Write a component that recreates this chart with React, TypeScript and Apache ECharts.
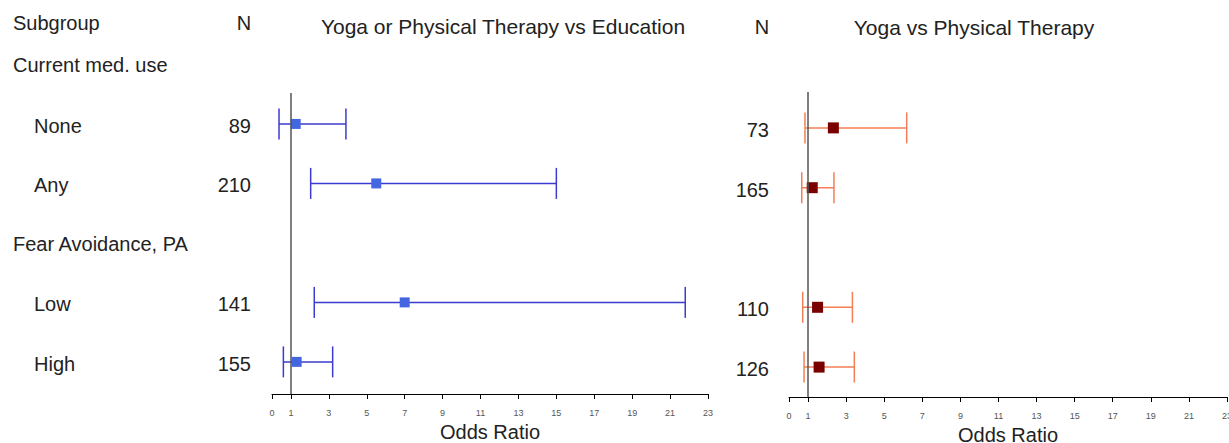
import React, { useEffect, useRef } from "react";
import * as echarts from "echarts";

// ---- data ----
const subgroups = ["None", "Any", "Low", "High"];
const subgroupRows = [0, 1, 3, 4];
const headers = ["Current med. use", "Fear Avoidance, PA"];
const headerRows = [-1, 2];
const nLeft = [89, 210, 141, 155];
const nRight = [73, 165, 110, 126];
const orLeft = [1.25, 5.5, 7.0, 1.3];
const lowLeft = [0.37, 2.04, 2.23, 0.6];
const highLeft = [3.9, 15.0, 21.8, 3.2];
const orRight = [2.33, 1.22, 1.5, 1.58];
const lowRight = [0.84, 0.67, 0.72, 0.79];
const highRight = [6.18, 2.36, 3.33, 3.43];
const tickValues = [0, 1, 3, 5, 7, 9, 11, 13, 15, 17, 19, 21, 23];
const refValue = 1;
const leftTitle = "Yoga or Physical Therapy vs Education";
const rightTitle = "Yoga vs Physical Therapy";
const axisName = "Odds Ratio";

const FONT = "'Liberation Sans', Arial, Helvetica, sans-serif";
const TEXT_COLOR = "#222";

function errorBars(gridIdx: number, lows: number[], highs: number[], color: string) {
  return {
    type: "custom",
    xAxisIndex: gridIdx,
    yAxisIndex: gridIdx,
    clip: false,
    encode: { x: [1, 2], y: 0 },
    data: subgroupRows.map((r, i) => [r, lows[i], highs[i]]),
    renderItem: (params: any, api: any) => {
      const y = api.value(0);
      const p1 = api.coord([api.value(1), y]);
      const p2 = api.coord([api.value(2), y]);
      const cap = 15.5;
      const style = { stroke: color, lineWidth: 1.5 };
      return {
        type: "group",
        children: [
          { type: "line", shape: { x1: p1[0], y1: p1[1], x2: p2[0], y2: p2[1] }, style },
          { type: "line", shape: { x1: p1[0], y1: p1[1] - cap, x2: p1[0], y2: p1[1] + cap }, style },
          { type: "line", shape: { x1: p2[0], y1: p2[1] - cap, x2: p2[0], y2: p2[1] + cap }, style },
        ],
      };
    },
    markLine: {
      silent: true,
      symbol: "none",
      label: { show: false },
      lineStyle: { color: "#555", width: 1.5, type: "solid" },
      data: [{ xAxis: refValue }],
    },
    z: 2,
  };
}

function points(gridIdx: number, ors: number[], color: string, size: number) {
  return {
    type: "scatter",
    xAxisIndex: gridIdx,
    yAxisIndex: gridIdx,
    symbol: "rect",
    symbolSize: size,
    itemStyle: { color, opacity: 1 },
    data: subgroupRows.map((r, i) => [ors[i], r]),
    z: 3,
  };
}

function xAxis(gridIdx: number) {
  return {
    type: "value",
    gridIndex: gridIdx,
    min: 0,
    max: 23,
    splitLine: { show: false },
    axisLine: { show: true, onZero: false, lineStyle: { color: "#000", width: 1 } },
    axisTick: { show: true, inside: false, length: 5, customValues: tickValues, lineStyle: { color: "#000" } },
    axisLabel: {
      show: true,
      customValues: tickValues,
      fontSize: 9,
      color: "#555",
      margin: 14,
      fontFamily: FONT,
    },
    name: axisName,
    nameLocation: "middle",
    nameGap: 26,
    nameTextStyle: { fontSize: 20, color: TEXT_COLOR, fontFamily: FONT },
  };
}

export default function App() {
  const ref = useRef<HTMLDivElement>(null);
  useEffect(() => {
    document.body.style.margin = "0";
    const chart = echarts.init(ref.current!, null, { renderer: "svg" });
    chart.setOption({
      animation: false,
      backgroundColor: "#fff",
      grid: [
        { left: 272, width: 436, top: 93, height: 301, containLabel: false, outerBoundsMode: "none" },
        { left: 789, width: 438, top: 92, height: 305, containLabel: false, outerBoundsMode: "none" },
      ],
      xAxis: [xAxis(0), xAxis(1)],
      yAxis: [
        { type: "value", gridIndex: 0, inverse: true, min: -0.52, max: 4.54, show: false },
        { type: "value", gridIndex: 1, inverse: true, min: -0.6, max: 4.5, show: false },
      ],
      series: [
        errorBars(0, lowLeft, highLeft, "#3B3BCF"),
        points(0, orLeft, "#4466E0", 10),
        errorBars(1, lowRight, highRight, "#F47E55"),
        points(1, orRight, "#7A0000", 11),
      ],
    });

    const yL = (r: number) => chart.convertToPixel({ gridIndex: 0 }, [0, r])[1];
    const yR = (r: number) => chart.convertToPixel({ gridIndex: 1 }, [0, r])[1];
    const txt = (text: string, x: number, y: number, align: string = "left", size = 20) => ({
      type: "text",
      x,
      y,
      style: {
        text,
        fill: TEXT_COLOR,
        font: `${size}px ${FONT}`,
        align,
        verticalAlign: "middle",
      },
    });
    const graphics: any[] = [];
    graphics.push(txt("Subgroup", 13, 23));
    graphics.push(txt("N", 244, 23, "center"));
    graphics.push(txt(leftTitle, 503, 26, "center", 21));
    graphics.push(txt("N", 762, 27, "center"));
    graphics.push(txt(rightTitle, 974, 27, "center", 21));
    headers.forEach((h, i) => graphics.push(txt(h, 13, yL(headerRows[i]) + 1)));
    subgroups.forEach((s, i) => {
      graphics.push(txt(s, 34, yL(subgroupRows[i]) + 2));
      graphics.push(txt(String(nLeft[i]), 251, yL(subgroupRows[i]) + 2, "right"));
      graphics.push(txt(String(nRight[i]), 769, yR(subgroupRows[i]) + 2, "right"));
    });
    chart.setOption({ graphic: graphics });

    return () => chart.dispose();
  }, []);
  return <div ref={ref} style={{ width: 1229, height: 443 }} />;
}
